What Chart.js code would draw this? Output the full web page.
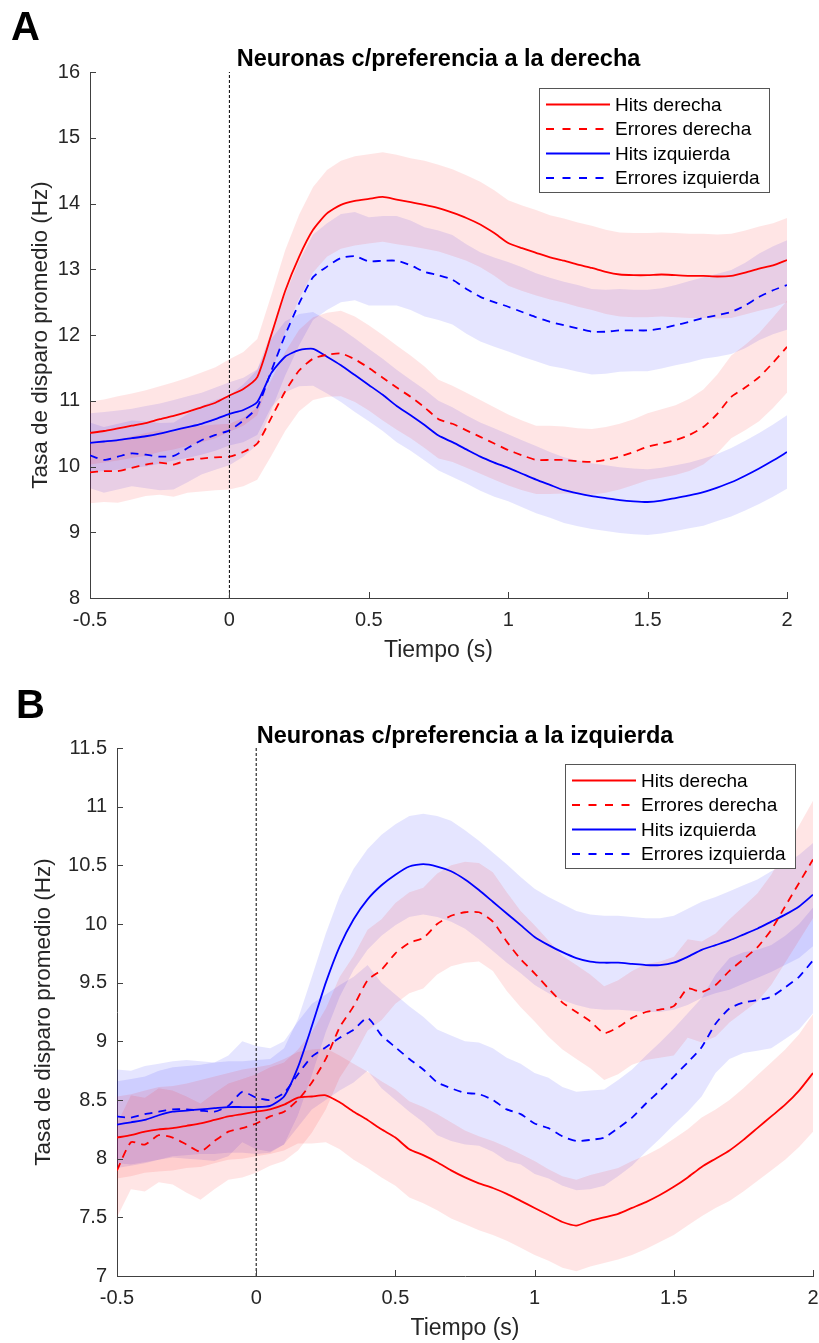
<!DOCTYPE html>
<html lang="es">
<head>
<meta charset="utf-8">
<title>Tasa de disparo promedio</title>
<script src="https://cdn.jsdelivr.net/npm/chart.js@4.4.1/dist/chart.umd.min.js"></script>
<style>
  body { margin: 0; background: #fff; width: 819px; height: 1343px; position: relative; overflow: hidden; }
  .panel { position: absolute; left: 0; width: 819px; }
  .letra { position: absolute; font-family: 'Liberation Sans', Arial, sans-serif; font-weight: bold; font-size: 40px; line-height: 1; color: #000; }
</style>
</head>
<body>
<div class="panel" style="top:0;height:670px"><canvas id="graficoA" width="819" height="670"></canvas></div>
<div class="panel" style="top:670px;height:673px"><canvas id="graficoB" width="819" height="673"></canvas></div>
<div class="letra" style="left:11px;top:6px">A</div>
<div class="letra" style="left:16px;top:684px">B</div>

<script>
// Eje de tiempo (s)
const tiempo = [-0.5,-0.45,-0.4,-0.35,-0.3,-0.25,-0.2,-0.15,-0.1,-0.05,0,
  0.05,0.1,0.15,0.2,0.25,0.3,0.35,0.4,0.45,0.5,0.55,0.6,0.65,0.7,0.75,0.8,0.85,0.9,0.95,1,
  1.05,1.1,1.15,1.2,1.25,1.3,1.35,1.4,1.45,1.5,1.55,1.6,1.65,1.7,1.75,1.8,1.85,1.9,1.95,2];

const nombres = ['Hits derecha', 'Errores derecha', 'Hits izquierda', 'Errores izquierda'];

// Panel A: neuronas con preferencia a la derecha (media, Hz)
const hitsDerA = [10.51,10.54,10.58,10.62,10.66,10.72,10.77,10.83,10.9,10.97,11.08,
  11.18,11.36,12.0,12.67,13.19,13.6,
  13.85,13.98,14.04,14.07,14.1,14.06,14.02,13.98,13.93,13.86,13.78,13.68,13.55,13.4,13.32,13.25,13.18,13.13,13.07,13.02,12.96,12.92,12.91,12.91,12.92,12.91,12.9,12.9,12.89,12.9,12.95,13.01,13.06,13.14];
const errDerA = [9.91,9.93,9.93,9.98,10.03,10.06,10.03,10.1,10.12,10.14,10.15,
  10.22,10.35,10.74,11.14,11.46,11.64,
  11.7,11.72,11.63,11.5,11.35,11.2,11.06,10.9,10.72,10.65,10.55,10.45,10.35,10.25,10.17,10.1,10.1,10.1,10.08,10.07,10.1,10.15,10.22,10.3,10.35,10.4,10.48,10.6,10.8,11.06,11.2,11.36,11.58,11.82];
const hitsIzqA = [10.36,10.38,10.4,10.43,10.46,10.5,10.55,10.6,10.65,10.72,10.8,
  10.86,10.98,11.42,11.67,11.77,11.79,
  11.67,11.54,11.39,11.24,11.09,10.92,10.78,10.63,10.47,10.37,10.26,10.15,10.06,9.98,9.89,9.8,9.72,9.64,9.59,9.55,9.52,9.49,9.47,9.46,9.48,9.52,9.56,9.61,9.68,9.76,9.86,9.97,10.09,10.22];
const errIzqA = [10.17,10.1,10.15,10.2,10.18,10.15,10.16,10.28,10.4,10.48,10.55,
  10.7,10.9,11.45,12.0,12.48,12.88,
  13.04,13.17,13.2,13.12,13.13,13.13,13.06,12.96,12.91,12.84,12.7,12.58,12.5,12.43,12.35,12.27,12.2,12.15,12.1,12.05,12.05,12.07,12.07,12.07,12.1,12.15,12.2,12.26,12.3,12.35,12.45,12.58,12.68,12.76];

// Error estándar del panel A (semiancho de la banda)
const semHitsDerA = [0.48,0.48,0.49,0.49,0.5,0.5,0.51,0.52,0.53,0.54,0.55,
  0.56,0.58,0.6,0.62,0.64,0.65,
  0.66,0.67,0.68,0.68,0.68,0.68,0.67,0.67,0.66,0.66,0.65,0.65,0.65,0.65,0.65,0.65,0.64,0.64,0.64,0.64,0.64,0.64,0.64,0.64,0.64,0.64,0.64,0.64,0.64,0.64,0.64,0.64,0.64,0.64];
const semErrDerA = [0.47,0.47,0.48,0.48,0.48,0.49,0.49,0.5,0.5,0.5,0.5,
  0.52,0.55,0.58,0.6,0.62,0.63,
  0.64,0.65,0.65,0.65,0.65,0.64,0.63,0.62,0.6,0.58,0.57,0.56,0.55,0.54,0.53,0.52,0.52,0.51,0.5,0.5,0.5,0.5,0.5,0.51,0.52,0.53,0.55,0.57,0.6,0.63,0.65,0.67,0.69,0.7];
const semHitsIzqA = [0.45,0.45,0.45,0.45,0.46,0.46,0.46,0.47,0.47,0.48,0.48,
  0.49,0.5,0.52,0.54,0.55,0.56,
  0.56,0.56,0.56,0.55,0.55,0.55,0.54,0.54,0.53,0.53,0.52,0.52,0.52,0.51,0.51,0.51,0.5,0.5,0.5,0.5,0.5,0.5,0.5,0.5,0.5,0.5,0.5,0.51,0.51,0.52,0.53,0.54,0.55,0.56];
const semErrIzqA = [0.5,0.5,0.5,0.5,0.51,0.51,0.51,0.52,0.52,0.53,0.53,
  0.55,0.57,0.6,0.62,0.64,0.65,
  0.66,0.67,0.67,0.67,0.68,0.68,0.68,0.68,0.68,0.68,0.68,0.68,0.68,0.68,0.68,0.67,0.67,0.66,0.66,0.65,0.64,0.63,0.62,0.62,0.61,0.61,0.62,0.62,0.63,0.64,0.65,0.66,0.67,0.68];

// Panel B: neuronas con preferencia a la izquierda (media, Hz)
const hitsDerB = [8.18,8.2,8.23,8.25,8.26,8.28,8.3,8.33,8.36,8.38,8.4,
  8.42,8.46,8.52,8.53,8.54,8.48,
  8.4,8.33,8.25,8.18,8.08,8.03,7.97,7.9,7.84,7.79,7.75,7.7,7.64,7.58,7.52,7.46,7.43,7.47,7.5,7.53,7.58,7.63,7.69,7.76,7.84,7.93,8.0,8.07,8.16,8.26,8.36,8.46,8.58,8.73];
const errDerB = [7.9,8.14,8.12,8.2,8.18,8.12,8.06,8.15,8.23,8.26,8.3,
  8.36,8.4,8.5,8.65,8.85,9.12,
  9.3,9.52,9.61,9.75,9.84,9.88,10.0,10.07,10.1,10.1,10.02,9.85,9.7,9.58,9.45,9.33,9.25,9.17,9.07,9.12,9.2,9.25,9.27,9.3,9.45,9.42,9.48,9.6,9.7,9.8,9.95,10.15,10.35,10.55];
const hitsIzqB = [8.29,8.31,8.33,8.37,8.4,8.41,8.42,8.43,8.44,8.44,8.44,
  8.45,8.53,8.78,9.13,9.5,9.81,
  10.04,10.21,10.33,10.42,10.49,10.51,10.49,10.45,10.38,10.29,10.19,10.09,9.99,9.89,9.82,9.76,9.71,9.68,9.67,9.67,9.66,9.65,9.65,9.67,9.72,9.78,9.82,9.86,9.91,9.96,10.02,10.08,10.15,10.25];
const errIzqB = [8.36,8.35,8.38,8.4,8.42,8.42,8.41,8.4,8.45,8.57,8.52,
  8.5,8.56,8.72,8.87,8.95,9.03,
  9.1,9.2,9.05,8.95,8.85,8.76,8.65,8.6,8.56,8.55,8.5,8.42,8.38,8.3,8.26,8.19,8.15,8.16,8.18,8.26,8.35,8.47,8.58,8.7,8.82,8.95,9.15,9.28,9.33,9.35,9.38,9.46,9.55,9.69];

// Error estándar del panel B
const semHitsDerB = [0.35,0.35,0.35,0.36,0.36,0.36,0.37,0.37,0.37,0.38,0.38,
  0.38,0.39,0.39,0.4,0.4,0.4,
  0.41,0.41,0.41,0.41,0.41,0.41,0.41,0.41,0.4,0.4,0.4,0.4,0.4,0.4,0.39,0.39,0.39,0.39,0.39,0.39,0.4,0.4,0.4,0.41,0.41,0.42,0.42,0.43,0.44,0.45,0.46,0.47,0.48,0.5];
const semErrDerB = [0.4,0.4,0.4,0.4,0.4,0.41,0.41,0.41,0.41,0.42,0.42,
  0.42,0.42,0.43,0.43,0.43,0.43,
  0.43,0.43,0.43,0.43,0.43,0.43,0.43,0.43,0.43,0.42,0.42,0.42,0.41,0.41,0.41,0.4,0.4,0.4,0.4,0.4,0.4,0.41,0.41,0.42,0.42,0.43,0.44,0.44,0.45,0.46,0.47,0.48,0.49,0.5];
const semHitsIzqB = [0.37,0.37,0.37,0.38,0.38,0.38,0.38,0.39,0.39,0.39,0.4,
  0.4,0.41,0.41,0.42,0.42,0.43,
  0.43,0.43,0.43,0.43,0.43,0.43,0.43,0.43,0.42,0.42,0.42,0.42,0.41,0.41,0.41,0.41,0.4,0.4,0.4,0.4,0.4,0.4,0.4,0.4,0.41,0.41,0.41,0.42,0.42,0.42,0.43,0.43,0.44,0.44];
const semErrIzqB = [0.4,0.4,0.41,0.41,0.41,0.42,0.42,0.42,0.43,0.43,0.44,
  0.44,0.44,0.45,0.45,0.45,0.45,
  0.45,0.45,0.45,0.45,0.45,0.45,0.45,0.45,0.44,0.44,0.44,0.44,0.43,0.43,0.43,0.42,0.42,0.42,0.41,0.41,0.41,0.41,0.41,0.41,0.42,0.42,0.42,0.43,0.43,0.43,0.44,0.44,0.45,0.45];

const ticksX = [-0.5, 0, 0.5, 1, 1.5, 2];

Chart.defaults.font.family = "'Liberation Sans', Arial, Helvetica, sans-serif";
Chart.defaults.color = '#262626';

// Etiquetas sin ceros de sobra (1 y no 1.0)
function formatoTick(valor) {
    return String(Math.round(valor * 100) / 100);
}

// Marcas de los ejes hacia adentro (estilo MATLAB)
const ticksInternos = {
    id: 'ticksInternos',
    afterDraw(chart) {
        const ctx = chart.ctx;
        const area = chart.chartArea;
        const sx = chart.scales.x, sy = chart.scales.y;
        ctx.save();
        ctx.strokeStyle = '#404040';
        ctx.lineWidth = 1;
        ctx.beginPath();
        sy.ticks.forEach(t => {
            const py = Math.round(sy.getPixelForValue(t.value)) + 0.5;
            ctx.moveTo(area.left, py);
            ctx.lineTo(area.left + 6, py);
        });
        sx.ticks.forEach(t => {
            const px = Math.round(sx.getPixelForValue(t.value)) + 0.5;
            ctx.moveTo(px, area.bottom);
            ctx.lineTo(px, area.bottom - 6);
        });
        ctx.stroke();
        ctx.restore();
    }
};

// Leyenda con recuadro dentro del área del gráfico
const cajaLeyenda = {
    id: 'cajaLeyenda',
    afterDatasetsDraw(chart, args, opts) {
        const ctx = chart.ctx;
        const area = chart.chartArea;
        const x0 = area.right - 248, y0 = area.top + 16;
        ctx.save();
        ctx.fillStyle = '#fff';
        ctx.fillRect(x0, y0, 230, 104);
        ctx.strokeStyle = '#555';
        ctx.lineWidth = 1;
        ctx.strokeRect(x0 + 0.5, y0 + 0.5, 230, 104);
        ctx.font = "19px 'Liberation Sans', Arial, sans-serif";
        ctx.textBaseline = 'middle';
        opts.series.forEach((s, i) => {
            const y = y0 + 16.5 + i * 24.5;
            ctx.beginPath();
            ctx.setLineDash(s.guiones ? [8, 8.5] : []);
            ctx.strokeStyle = s.color;
            ctx.lineWidth = 1.8;
            ctx.moveTo(x0 + 7, y);
            ctx.lineTo(x0 + 71, y);
            ctx.stroke();
            ctx.fillStyle = '#000';
            ctx.fillText(s.nombre, x0 + 76, y + 1);
        });
        ctx.restore();
    }
};

function crearPanel(idCanvas, titulo, series, yMin, yMax, yPaso, geo) {
    const datasets = [];

    // Bandas de error (media ± SEM), se dibujan antes que las líneas
    series.forEach(s => {
        datasets.push({
            label: '',
            data: tiempo.map((t, i) => ({ x: t, y: s.media[i] + s.sem[i] })),
            borderWidth: 0, borderColor: 'transparent', pointRadius: 0, fill: false
        });
        datasets.push({
            label: '',
            data: tiempo.map((t, i) => ({ x: t, y: s.media[i] - s.sem[i] })),
            borderWidth: 0, borderColor: 'transparent', pointRadius: 0,
            fill: '-1', backgroundColor: s.relleno
        });
    });

    // Línea punteada en t = 0 (inicio del estímulo)
    datasets.push({
        label: '',
        data: [{ x: 0, y: yMin }, { x: 0, y: yMax }],
        borderColor: '#000', borderWidth: 1, borderDash: [3, 2], pointRadius: 0, fill: false
    });

    // Promedios
    series.forEach(s => {
        datasets.push({
            label: s.nombre,
            data: tiempo.map((t, i) => ({ x: t, y: s.media[i] })),
            borderColor: s.color, borderWidth: 1.8,
            borderDash: s.guiones ? [8, 6] : [],
            pointRadius: 0, fill: false, tension: 0.2
        });
    });

    const ctx = document.getElementById(idCanvas).getContext('2d');
    return new Chart(ctx, {
        type: 'line',
        data: { datasets: datasets },
        plugins: [ticksInternos, cajaLeyenda],
        options: {
            responsive: false,
            animation: false,
            events: [],
            layout: { padding: { left: 0, right: geo.derecha, top: 0, bottom: 0 } },
            plugins: {
                legend: { display: false },
                tooltip: { enabled: false },
                filler: { drawTime: 'beforeDatasetsDraw' },
                title: {
                    display: true, text: titulo, fullSize: false, color: '#000',
                    font: { size: 23.5, weight: 'bold' },
                    padding: { top: geo.tituloArriba, bottom: geo.tituloAbajo }
                },
                cajaLeyenda: { series: series }
            },
            scales: {
                x: {
                    type: 'linear', min: -0.5, max: 2,
                    afterBuildTicks: s => { s.ticks = ticksX.map(v => ({ value: v })); },
                    ticks: { padding: 10, font: { size: 20 }, color: '#262626', callback: formatoTick },
                    grid: { display: false, drawTicks: false },
                    border: { display: true, color: '#404040', width: 1 },
                    title: {
                        display: true, text: 'Tiempo (s)', color: '#262626',
                        font: { size: 23 }, padding: { top: 0, bottom: geo.xTituloAbajo }
                    },
                    // Tamaño fijo del eje y sin márgenes extra por las etiquetas
                    afterFit: s => { s.height = geo.altoX; s.paddingLeft = 0; s.paddingRight = 0; }
                },
                y: {
                    type: 'linear', min: yMin, max: yMax,
                    ticks: { stepSize: yPaso, padding: 10, font: { size: 20 }, color: '#262626', callback: formatoTick },
                    grid: { display: false, drawTicks: false },
                    border: { display: true, color: '#404040', width: 1 },
                    title: {
                        display: true, text: 'Tasa de disparo promedio (Hz)', color: '#262626',
                        font: { size: 22.5 }, padding: { top: geo.yTituloIzq, bottom: 0 }
                    },
                    afterFit: s => { s.width = geo.anchoY; s.paddingTop = 0; s.paddingBottom = 0; }
                }
            }
        }
    });
}

const rojoBanda = 'rgba(255, 0, 0, 0.1)';
const azulBanda = 'rgba(0, 0, 255, 0.1)';

crearPanel('graficoA', 'Neuronas c/preferencia a la derecha', [
    { nombre: nombres[0], media: hitsDerA, sem: semHitsDerA, color: '#FF0000', relleno: rojoBanda, guiones: false },
    { nombre: nombres[1], media: errDerA, sem: semErrDerA, color: '#FF0000', relleno: rojoBanda, guiones: true },
    { nombre: nombres[2], media: hitsIzqA, sem: semHitsIzqA, color: '#0000FF', relleno: azulBanda, guiones: false },
    { nombre: nombres[3], media: errIzqA, sem: semErrIzqA, color: '#0000FF', relleno: azulBanda, guiones: true }
], 8, 16, 1, { derecha: 32, anchoY: 90, altoX: 72, tituloArriba: 45.3, tituloAbajo: -1.5, xTituloAbajo: 6, yTituloIzq: 27.5 });

crearPanel('graficoB', 'Neuronas c/preferencia a la izquierda', [
    { nombre: nombres[0], media: hitsDerB, sem: semHitsDerB, color: '#FF0000', relleno: rojoBanda, guiones: false },
    { nombre: nombres[1], media: errDerB, sem: semErrDerB, color: '#FF0000', relleno: rojoBanda, guiones: true },
    { nombre: nombres[2], media: hitsIzqB, sem: semHitsIzqB, color: '#0000FF', relleno: azulBanda, guiones: false },
    { nombre: nombres[3], media: errIzqB, sem: semErrIzqB, color: '#0000FF', relleno: azulBanda, guiones: true }
], 7, 11.5, 0.5, { derecha: 6, anchoY: 117, altoX: 67, tituloArriba: 52.3, tituloAbajo: -2.5, xTituloAbajo: 1, yTituloIzq: 30.5 });
</script>
</body>
</html>
